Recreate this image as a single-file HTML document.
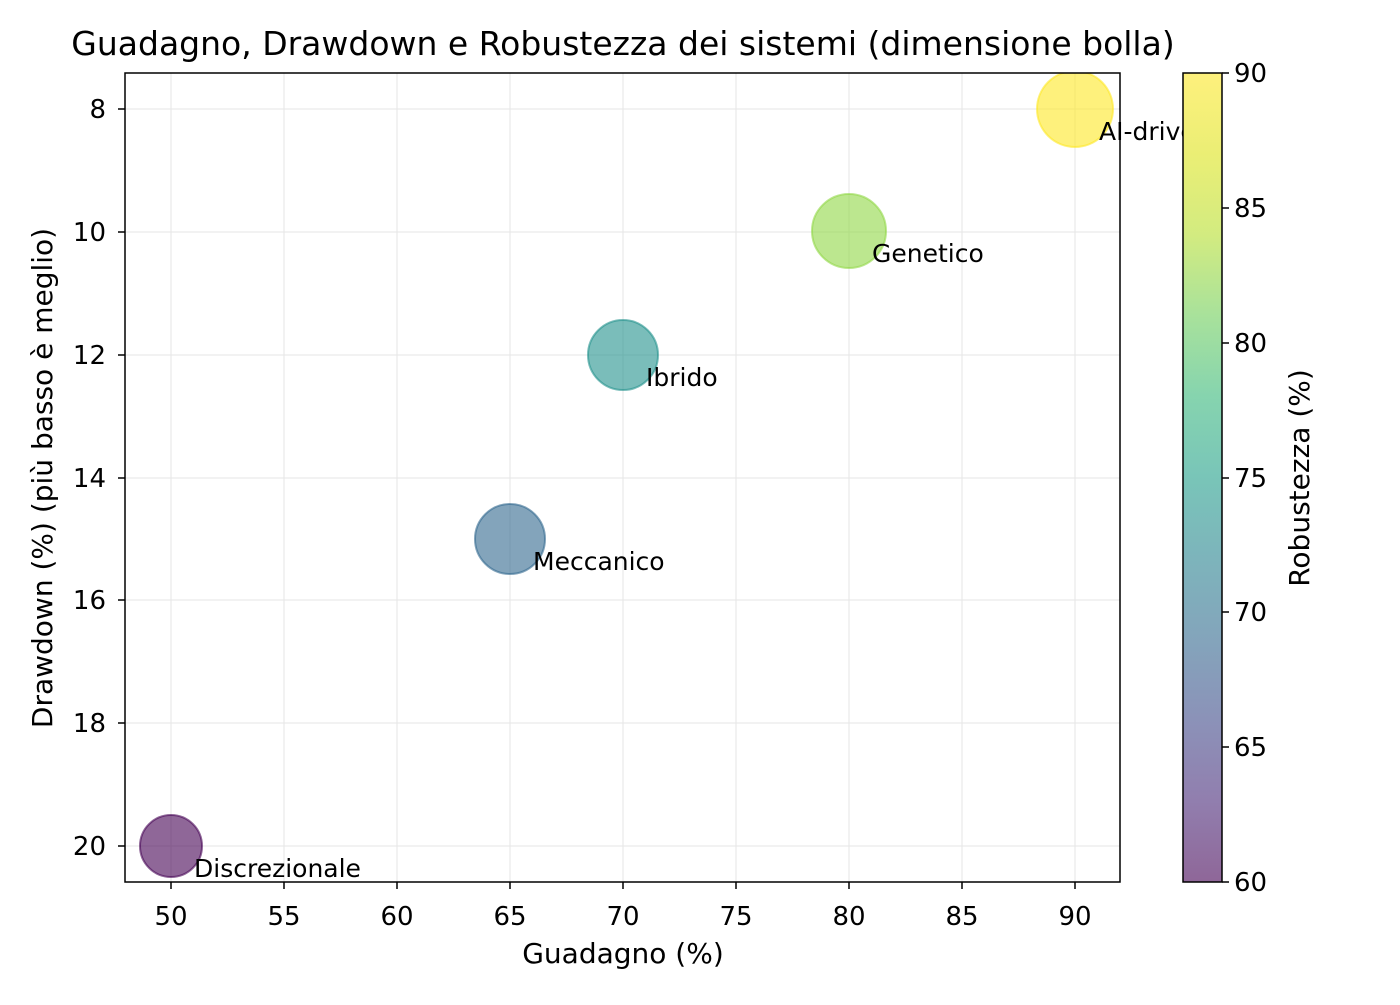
<!DOCTYPE html>
<html><head><meta charset="utf-8"><style>body{margin:0;background:#fff}svg{font-family:"DejaVu Sans","Liberation Sans",sans-serif}</style></head><body>
<svg width="1400" height="1000" viewBox="0 0 1400 1000" xmlns="http://www.w3.org/2000/svg">
<defs>
<linearGradient id="vir" x1="0" y1="1" x2="0" y2="0">
<stop offset="0" stop-color="#440154"/><stop offset="0.1" stop-color="#482878"/><stop offset="0.2" stop-color="#3e4989"/><stop offset="0.3" stop-color="#31688e"/><stop offset="0.4" stop-color="#26828e"/><stop offset="0.5" stop-color="#1f9e89"/><stop offset="0.6" stop-color="#35b779"/><stop offset="0.7" stop-color="#6ece58"/><stop offset="0.8" stop-color="#b5de2b"/><stop offset="0.9" stop-color="#dde318"/><stop offset="1" stop-color="#fde725"/>
</linearGradient>
<clipPath id="ax"><rect x="125" y="73" width="995" height="809"/></clipPath>
</defs>
<rect width="1400" height="1000" fill="#fff"/>
<g stroke="#e6e6e6" stroke-width="1">
<line x1="171" y1="73" x2="171" y2="882"/><line x1="284" y1="73" x2="284" y2="882"/><line x1="397" y1="73" x2="397" y2="882"/><line x1="510" y1="73" x2="510" y2="882"/><line x1="623" y1="73" x2="623" y2="882"/><line x1="736" y1="73" x2="736" y2="882"/><line x1="849" y1="73" x2="849" y2="882"/><line x1="962" y1="73" x2="962" y2="882"/><line x1="1075" y1="73" x2="1075" y2="882"/>
<line x1="125" y1="109" x2="1120" y2="109"/><line x1="125" y1="232" x2="1120" y2="232"/><line x1="125" y1="355" x2="1120" y2="355"/><line x1="125" y1="478" x2="1120" y2="478"/><line x1="125" y1="600" x2="1120" y2="600"/><line x1="125" y1="723" x2="1120" y2="723"/><line x1="125" y1="846" x2="1120" y2="846"/>
</g>
<g clip-path="url(#ax)" stroke-width="2">
<circle cx="171" cy="846" r="31" fill="#440154" fill-opacity="0.6" stroke="#440154" stroke-opacity="0.6"/>
<circle cx="510" cy="539" r="35" fill="#31688e" fill-opacity="0.6" stroke="#31688e" stroke-opacity="0.6"/>
<circle cx="623" cy="355" r="35" fill="#21918c" fill-opacity="0.6" stroke="#21918c" stroke-opacity="0.6"/>
<circle cx="849" cy="231" r="37" fill="#8fd744" fill-opacity="0.6" stroke="#8fd744" stroke-opacity="0.6"/>
<circle cx="1075" cy="109" r="38" fill="#fde725" fill-opacity="0.6" stroke="#fde725" stroke-opacity="0.6"/>
</g>
<g font-size="25" fill="#000">
<text x="194" y="877">Discrezionale</text>
<text x="533" y="570">Meccanico</text>
<text x="646" y="386">Ibrido</text>
<text x="872" y="262">Genetico</text>
<text x="1099" y="140">AI-driven</text>
</g>
<rect x="1183" y="60" width="200" height="840" fill="#fff"/>
<rect x="125" y="73" width="995" height="809" fill="none" stroke="#000" stroke-width="1.5"/>
<g stroke="#000" stroke-width="1.5">
<line x1="171" y1="882" x2="171" y2="889"/><line x1="284" y1="882" x2="284" y2="889"/><line x1="397" y1="882" x2="397" y2="889"/><line x1="510" y1="882" x2="510" y2="889"/><line x1="623" y1="882" x2="623" y2="889"/><line x1="736" y1="882" x2="736" y2="889"/><line x1="849" y1="882" x2="849" y2="889"/><line x1="962" y1="882" x2="962" y2="889"/><line x1="1075" y1="882" x2="1075" y2="889"/>
<line x1="118" y1="109" x2="125" y2="109"/><line x1="118" y1="232" x2="125" y2="232"/><line x1="118" y1="355" x2="125" y2="355"/><line x1="118" y1="478" x2="125" y2="478"/><line x1="118" y1="600" x2="125" y2="600"/><line x1="118" y1="723" x2="125" y2="723"/><line x1="118" y1="846" x2="125" y2="846"/>
</g>
<g font-size="26" fill="#000" text-anchor="middle">
<text x="171" y="925">50</text><text x="284" y="925">55</text><text x="397" y="925">60</text><text x="510" y="925">65</text><text x="623" y="925">70</text><text x="736" y="925">75</text><text x="849" y="925">80</text><text x="962" y="925">85</text><text x="1075" y="925">90</text>
</g>
<g font-size="26" fill="#000" text-anchor="end">
<text x="106" y="118">8</text><text x="106" y="241">10</text><text x="106" y="364">12</text><text x="106" y="487">14</text><text x="106" y="609">16</text><text x="106" y="732">18</text><text x="106" y="855">20</text>
</g>
<text x="623" y="963" font-size="28" text-anchor="middle">Guadagno (%)</text>
<text transform="translate(52,478) rotate(-90)" font-size="28" text-anchor="middle">Drawdown (%) (più basso è meglio)</text>
<text x="623" y="55" font-size="33" text-anchor="middle">Guadagno, Drawdown e Robustezza dei sistemi (dimensione bolla)</text>
<rect x="1183" y="73" width="39" height="809" fill="url(#vir)" fill-opacity="0.6"/>
<rect x="1183" y="73" width="39" height="809" fill="none" stroke="#000" stroke-width="1.5"/>
<g stroke="#000" stroke-width="1.5">
<line x1="1222" y1="73" x2="1229" y2="73"/><line x1="1222" y1="208" x2="1229" y2="208"/><line x1="1222" y1="343" x2="1229" y2="343"/><line x1="1222" y1="478" x2="1229" y2="478"/><line x1="1222" y1="612" x2="1229" y2="612"/><line x1="1222" y1="747" x2="1229" y2="747"/><line x1="1222" y1="882" x2="1229" y2="882"/>
</g>
<g font-size="26" fill="#000">
<text x="1234" y="82">90</text><text x="1234" y="217">85</text><text x="1234" y="352">80</text><text x="1234" y="487">75</text><text x="1234" y="621">70</text><text x="1234" y="756">65</text><text x="1234" y="891">60</text>
</g>
<text transform="translate(1309,478) rotate(-90)" font-size="28" text-anchor="middle">Robustezza (%)</text>
</svg>
</body></html>
